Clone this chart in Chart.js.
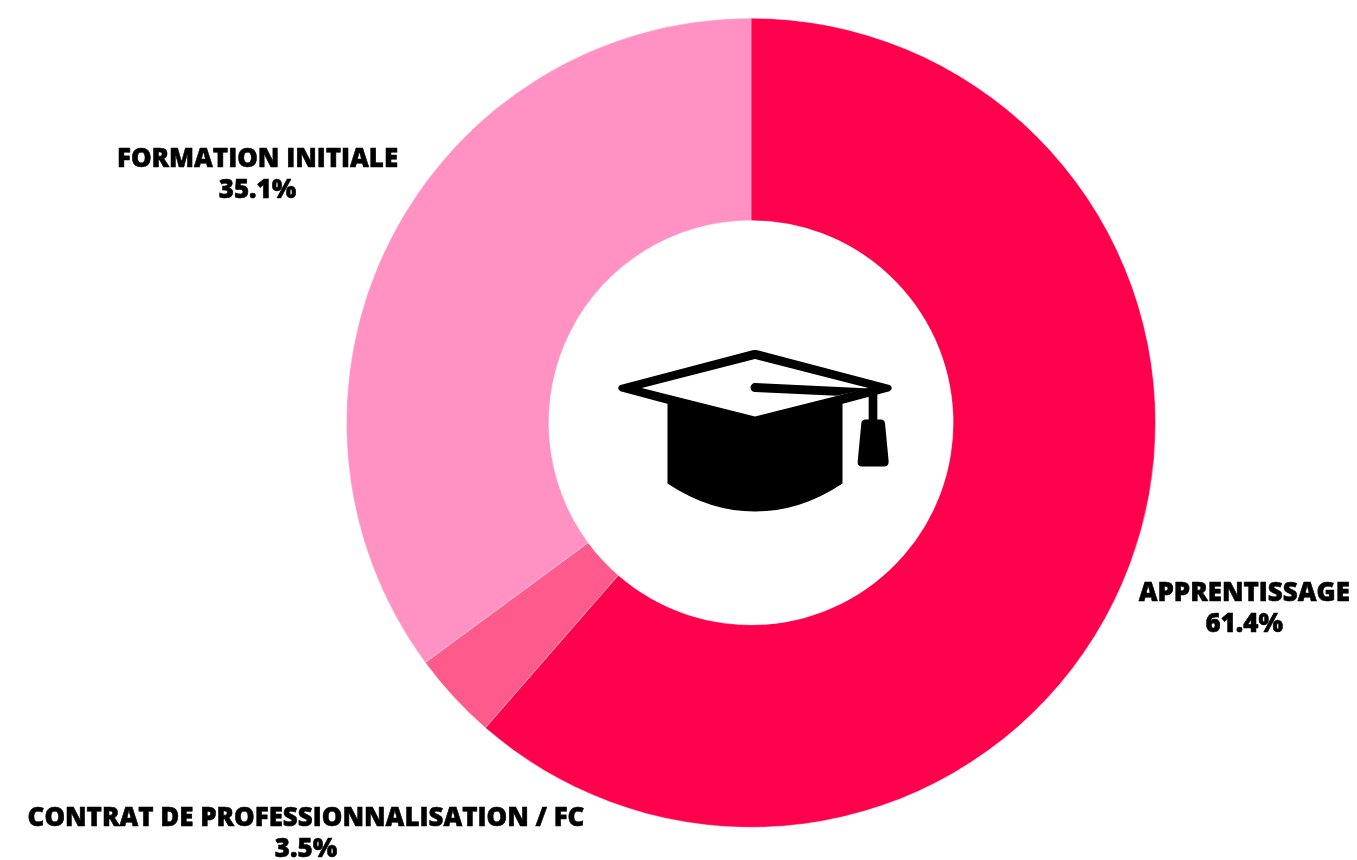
<!DOCTYPE html>
<html>
<head>
<meta charset="utf-8">
<style>
html,body{margin:0;padding:0;background:#fff;overflow:hidden}
#box{position:relative;width:1357px;height:860px}
</style>
<script src="https://cdn.jsdelivr.net/npm/chart.js@4"></script>
</head>
<body>
<div id="box"><canvas id="c"></canvas></div>
<script>
const categories = ["APPRENTISSAGE", "CONTRAT DE PROFESSIONNALISATION / FC", "FORMATION INITIALE"];
const values = [61.4, 3.5, 35.1];
const colors = ["#FF004D", "#FF5A8C", "#FF91C3"];
const labelDistance = [1.302, 1.496, 1.367];

const sliceLabels = {
  id: "sliceLabels",
  afterDatasetsDraw(chart) {
    const ctx = chart.ctx;
    const arcs = chart.getDatasetMeta(0).data;
    ctx.save();
    ctx.fillStyle = "#000";
    ctx.strokeStyle = "#000";
    ctx.lineWidth = 0.55;
    ctx.lineJoin = "round";
    ctx.textAlign = "center";
    ctx.textBaseline = "middle";
    ctx.font = '800 25.9px "Open Sans"';
    const put = (t, x, y) => { ctx.fillText(t, x, y); ctx.strokeText(t, x, y); };
    arcs.forEach((a, i) => {
      const mid = (a.startAngle + a.endAngle) / 2;
      const r = a.outerRadius * labelDistance[i];
      const x = a.x + Math.cos(mid) * r;
      const y = a.y + Math.sin(mid) * r;
      put(categories[i], x, y - 14);
      put(values[i].toFixed(1) + "%", x, y + 17);
    });
    ctx.restore();
  }
};

const capIcon = {
  id: "capIcon",
  afterDatasetsDraw(chart) {
    const ctx = chart.ctx;
    const a = chart.getDatasetMeta(0).data[0];
    const body = new Path2D("M62 168 L458 64 Q465 62 472 64 L868 168 Q878 175 868 182 L725 220 L725 460 Q600 543 465 543 Q330 543 205 460 L205 220 L62 182 Q52 175 62 168 Z");
    const top = new Path2D("M125 175 L465 88 L805 175 L465 260 Z");
    const rod = new Path2D("M465 160 L810 176 L710 198 L465 187 A13.5 13.5 0 0 1 465 160 Z");
    const tassel = new Path2D("M806 178 L832 178 L832 269 L843 269 Q853 269 855 280 L866 395 Q866 410 852 410 L787 410 Q772 410 773 395 L784 280 Q786 269 796 269 L806 269 Z");
    ctx.save();
    ctx.translate(a.x, a.y);
    ctx.translate(600 - 751, 330 - 423);
    ctx.scale(1 / 3, 1 / 3);
    ctx.fillStyle = "#000";
    ctx.strokeStyle = "#000";
    ctx.lineWidth = 5;
    ctx.lineJoin = "round";
    ctx.fill(body);
    ctx.stroke(body);
    ctx.fillStyle = "#fff";
    ctx.fill(top);
    ctx.fillStyle = "#000";
    ctx.fill(rod);
    ctx.fill(tassel);
    ctx.restore();
  }
};

function draw() {
  new Chart(document.getElementById("c"), {
    type: "doughnut",
    data: {
      labels: categories,
      datasets: [{
        data: values,
        backgroundColor: colors,
        borderColor: "rgba(255,255,255,0.6)",
        borderWidth: 0.5,
        hoverOffset: 0
      }]
    },
    options: {
      responsive: false,
      animation: false,
      cutout: "50%",
      layout: { padding: { left: 145, right: 0, top: 18, bottom: 32.5 } },
      plugins: { legend: { display: false }, tooltip: { enabled: false } }
    },
    plugins: [sliceLabels, capIcon]
  });
}
const cv = document.getElementById("c");
cv.width = 1357; cv.height = 860;
cv.style.width = "1357px"; cv.style.height = "860px"; cv.style.display = "block";
(document.fonts && document.fonts.load ? document.fonts.load('800 26px "Open Sans"') : Promise.resolve()).then(draw, draw);
</script>
</body>
</html>
